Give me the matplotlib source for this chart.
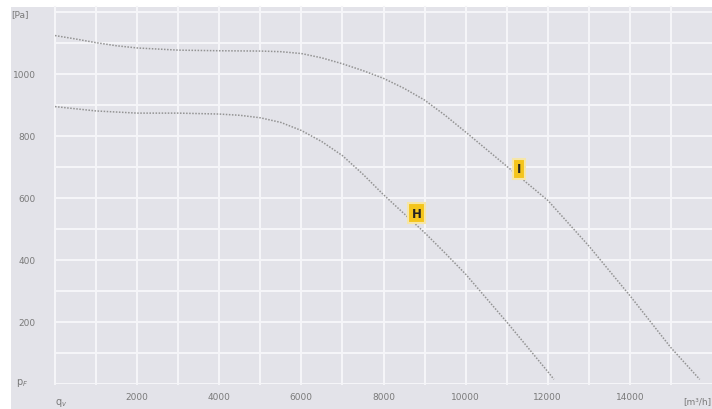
import matplotlib.pyplot as plt
from matplotlib.patches import Rectangle

# fan curves: volume flow [m3/h] vs pressure [Pa]
i_flow = [0, 500, 1000, 1500, 2000, 3000, 4000, 5000, 5500, 6000, 6500, 7000,
          7500, 8000, 8500, 9000, 9500, 10000, 11000, 12000, 13000, 14000,
          15000, 15700]
i_press = [1123, 1112, 1100, 1090, 1083, 1076, 1074, 1073, 1071, 1065, 1051,
           1032, 1010, 985, 953, 915, 866, 812, 702, 592, 445, 285, 117, 15]

h_flow = [0, 500, 1000, 2000, 3000, 4000, 4500, 5000, 5500, 6000, 6500, 7000,
          7500, 8000, 8500, 9000, 9500, 10000, 11000, 12000, 12150]
h_press = [894, 887, 880, 873, 873, 870, 866, 858, 843, 817, 781, 736, 676,
           610, 549, 488, 422, 354, 200, 40, 15]

x_ticks = [2000, 4000, 6000, 8000, 10000, 12000, 14000]
y_ticks = [200, 400, 600, 800, 1000]

curve_labels = ["H", "I"]
label_pos = [(8800, 550), (11300, 693)]

BG = "#e3e3e9"
GRID = "#f5f5f8"
TXT = "#7a7a7a"

fig = plt.figure(figsize=(7.12, 4.10), dpi=100)
fig.patch.set_facecolor("white")
fig.patches.append(Rectangle((11 / 712, 0), 1 - 11 / 712, 1 - 8 / 410,
                             transform=fig.transFigure, facecolor=BG,
                             edgecolor="none", zorder=-10))

ax = fig.add_axes([55 / 712, 1 - 385 / 410, 1 - 55 / 712, (385 - 8) / 410])
ax.set_facecolor(BG)
ax.set_xlim(0, 16000)
ax.set_ylim(0, 1215)
for s in ax.spines.values():
    s.set_visible(False)

# white grid every 1000 m3/h and 100 Pa
for x in range(0, 16000, 1000):
    ax.axvline(x, color=GRID, lw=1.5, zorder=0, clip_on=False)
for y in range(0, 1300, 100):
    ax.axhline(y, color=GRID, lw=1.5, zorder=0)

ax.plot(i_flow, i_press, color="#939393", lw=1.1, ls=(0, (1, 1)), zorder=3)
ax.plot(h_flow, h_press, color="#939393", lw=1.1, ls=(0, (1, 1)), zorder=3)

for lab, (x, y) in zip(curve_labels, label_pos):
    ax.text(x, y, lab, ha="center", va="center", fontsize=8.5,
            fontweight="bold", color="#222222", zorder=5,
            bbox=dict(boxstyle="square,pad=0.3", facecolor="#f4c51c",
                      edgecolor="#f6e6a8", lw=1.5))

ax.set_xticks(x_ticks)
ax.set_xticklabels([str(v) for v in x_ticks])
ax.set_yticks(y_ticks)
ax.set_yticklabels([str(v) for v in y_ticks])
ax.tick_params(length=0, labelsize=6.5, labelcolor=TXT)
ax.tick_params(axis="y", pad=14)
ax.tick_params(axis="x", pad=6)

# axis captions in the corners
ax.text(-650, 1195, "[Pa]", ha="right", va="center", fontsize=6.5, color=TXT,
        clip_on=False)
ax.text(-650, 5, "p$_F$", ha="right", va="center", fontsize=7, color=TXT,
        clip_on=False)
ax.text(150, -40, "q$_v$", ha="center", va="top", fontsize=7, color=TXT,
        clip_on=False)
ax.text(15650, -40, "[m³/h]", ha="center", va="top", fontsize=6.5, color=TXT,
        clip_on=False)

fig.savefig("out.png", dpi=100, facecolor=fig.get_facecolor())
